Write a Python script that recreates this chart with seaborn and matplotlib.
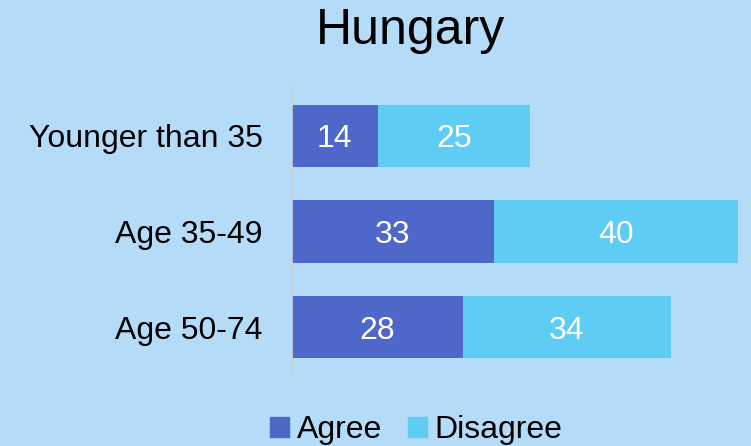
import matplotlib
matplotlib.use("Agg")
import pandas as pd
import seaborn as sns
import matplotlib.pyplot as plt
from matplotlib.patches import Patch

# data
groups = ["Younger than 35", "Age 35-49", "Age 50-74"]
agree = [14, 33, 28]
disagree = [25, 40, 34]

bg = "#b4dcf8"
c_agree = "#4f67c8"
c_disagree = "#5fcdf3"

df = pd.DataFrame({"group": groups, "Agree": agree, "Disagree": disagree})
df["total"] = df["Agree"] + df["Disagree"]

sns.set_style("white")
plt.rcParams["font.family"] = ["Liberation Sans", "DejaVu Sans"]
plt.rcParams["text.color"] = "black"
plt.rcParams["ytick.color"] = "black"

fig = plt.figure(figsize=(7.51, 4.46), dpi=100, facecolor=bg)
ax = fig.add_axes([0.389, 0.159, 0.61, 0.644])
ax.set_facecolor(bg)

# stacked: total first, agree on top
sns.barplot(data=df, y="group", x="total", color=c_disagree, width=0.65,
            saturation=1, ax=ax, orient="h", linewidth=0)
sns.barplot(data=df, y="group", x="Agree", color=c_agree, width=0.65,
            saturation=1, ax=ax, orient="h", linewidth=0)

for i, (a, d) in enumerate(zip(agree, disagree)):
    ax.text(a / 2, i, str(a), ha="center", va="center_baseline", color="white", fontsize=23)
    ax.text(a + d / 2, i, str(d), ha="center", va="center_baseline", color="white", fontsize=23)

ax.set_xlim(0, 75)
ax.set_ylim(2.5, -0.5)
ax.set_xlabel("")
ax.set_ylabel("")
ax.set_xticks([])
ax.tick_params(axis="y", length=0, pad=21, labelsize=23, labelcolor="black")
for s in ["top", "right", "bottom"]:
    ax.spines[s].set_visible(False)
ax.spines["left"].set_color("#d0d0d0")
ax.spines["left"].set_linewidth(1.2)

fig.text(0.546, 0.93, "Hungary", ha="center", va="center", fontsize=36, color="black")

handles = [Patch(color=c_agree, label="Agree"), Patch(color=c_disagree, label="Disagree")]
fig.legend(handles=handles, loc="center", bbox_to_anchor=(0.554, 0.035), ncol=2,
           frameon=False, fontsize=23, handlelength=0.6, handleheight=0.6,
           handletextpad=0.25, columnspacing=0.8, labelcolor="black")

plt.savefig("out.png", dpi=100, facecolor=bg)
